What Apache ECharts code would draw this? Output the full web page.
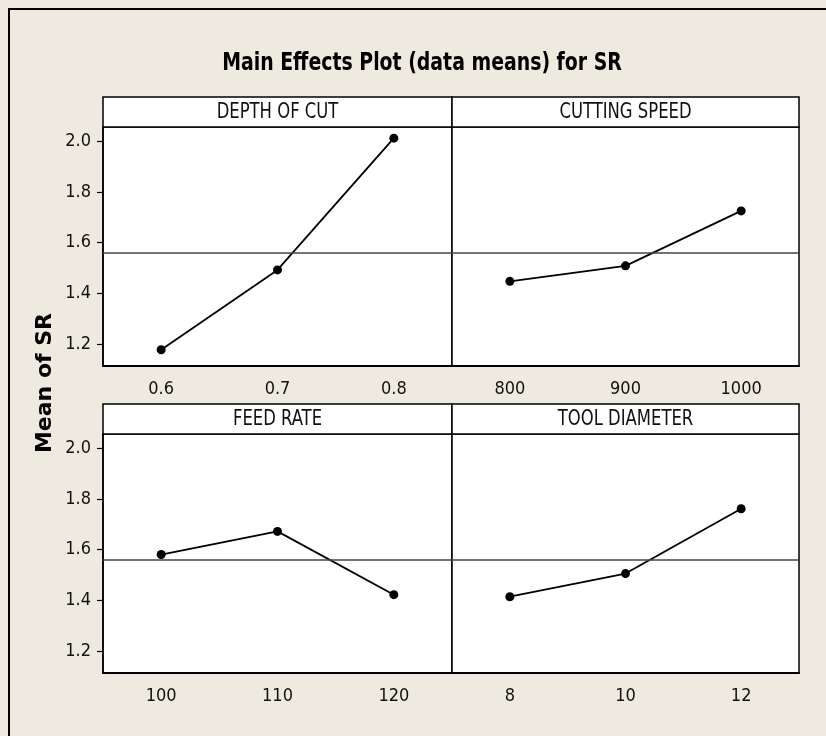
<!DOCTYPE html>
<html>
<head>
<meta charset="utf-8">
<script src="https://cdn.jsdelivr.net/npm/echarts@6/dist/echarts.min.js"></script>
<style>
html,body{margin:0;padding:0;background:#EEEAE0;}
#chart{width:826px;height:736px;}
</style>
</head>
<body>
<div id="chart"></div>
<script>
// ---- data ----
const chartTitle = 'Main Effects Plot (data means) for SR';
const yAxisTitle = 'Mean of SR';
const panelNames = ['DEPTH OF CUT', 'CUTTING SPEED', 'FEED RATE', 'TOOL DIAMETER'];
const depthLevels = ['0.6', '0.7', '0.8'];
const depthMeans = [1.179, 1.493, 2.011];
const speedLevels = ['800', '900', '1000'];
const speedMeans = [1.448, 1.509, 1.725];
const feedLevels = ['100', '110', '120'];
const feedMeans = [1.581, 1.672, 1.423];
const diameterLevels = ['8', '10', '12'];
const diameterMeans = [1.415, 1.506, 1.761];
const grandMean = 1.556;
const yTickValues = [1.2, 1.4, 1.6, 1.8, 2.0];
const yMin = 1.115, yMax = 2.055;

const FONT = '"Liberation Sans Narrow", "DejaVu Sans Condensed", sans-serif';
const panels = [
  {levels: depthLevels, means: depthMeans},
  {levels: speedLevels, means: speedMeans},
  {levels: feedLevels, means: feedMeans},
  {levels: diameterLevels, means: diameterMeans}
];
// layout
const colLeft = [103, 452], colWidth = [349, 347];
const rowTop = [127, 434], plotH = 239, stripH = 30;

const grids = [], xAxes = [], yAxes = [], series = [], graphics = [];
panels.forEach((p, i) => {
  const c = i % 2, r = Math.floor(i / 2);
  grids.push({left: colLeft[c], top: rowTop[r], width: colWidth[c], height: plotH,
    show: true, backgroundColor: '#ffffff', borderColor: '#000', borderWidth: 1.5});
  xAxes.push({type: 'category', gridIndex: i, data: p.levels, boundaryGap: true,
    axisLine: {lineStyle: {color: '#000', width: 2}},
    axisTick: {alignWithLabel: true, length: 7, lineStyle: {color: '#000', width: 1.2}},
    axisLabel: {color: '#111', fontSize: 18, fontFamily: FONT, margin: 14},
    splitLine: {show: false}});
  yAxes.push({type: 'value', gridIndex: i, min: yMin, max: yMax,
    axisLine: {show: c === 0, lineStyle: {color: '#000', width: 1.5}},
    axisTick: {show: c === 0, length: 6, customValues: yTickValues, lineStyle: {color: '#000', width: 1.2}},
    axisLabel: {show: c === 0, customValues: yTickValues, color: '#111', fontSize: 18, fontFamily: FONT, margin: 12,
      formatter: v => v.toFixed(1)},
    splitLine: {show: false}});
  series.push({type: 'line', xAxisIndex: i, yAxisIndex: i, data: p.means,
    symbol: 'circle', symbolSize: 9, itemStyle: {color: '#000'},
    lineStyle: {color: '#000', width: 1.8}, silent: true, animation: false,
    markLine: {silent: true, symbol: 'none', label: {show: false},
      lineStyle: {color: '#444', width: 1.6, type: 'solid'}, data: [{yAxis: grandMean}], animation: false}});
  // strip header
  graphics.push({type: 'rect', shape: {x: colLeft[c], y: rowTop[r] - stripH, width: colWidth[c], height: stripH},
    style: {fill: '#fff', stroke: '#000', lineWidth: 1.5}, z: 10});
  graphics.push({type: 'text', x: colLeft[c] + colWidth[c] / 2, y: rowTop[r] - stripH / 2 + 1, scaleX: 0.87,
    style: {text: panelNames[i], fill: '#111', font: '21px ' + FONT, textAlign: 'center', textVerticalAlign: 'middle'}, z: 11});
});
// outer frame
graphics.push({type: 'rect', shape: {x: 9, y: 9, width: 1000, height: 1000},
  style: {fill: 'none', stroke: '#000', lineWidth: 2}, z: 1});
// y axis title
graphics.push({type: 'text', x: 45, y: 383, rotation: Math.PI / 2,
  style: {text: yAxisTitle, fill: '#000', font: 'bold 22px "DejaVu Sans", Verdana, sans-serif',
    textAlign: 'center', textVerticalAlign: 'middle'}, z: 11});
// title
graphics.push({type: 'text', x: 422, y: 63, scaleX: 0.84,
  style: {text: chartTitle, fill: '#000', font: 'bold 25px ' + FONT, textAlign: 'center', textVerticalAlign: 'middle'}, z: 11});

const chart = echarts.init(document.getElementById('chart'), null, {renderer: 'canvas'});
chart.setOption({
  backgroundColor: '#EEEAE0',
  animation: false,
  grid: grids, xAxis: xAxes, yAxis: yAxes, series: series, graphic: graphics
});
</script>
</body>
</html>
